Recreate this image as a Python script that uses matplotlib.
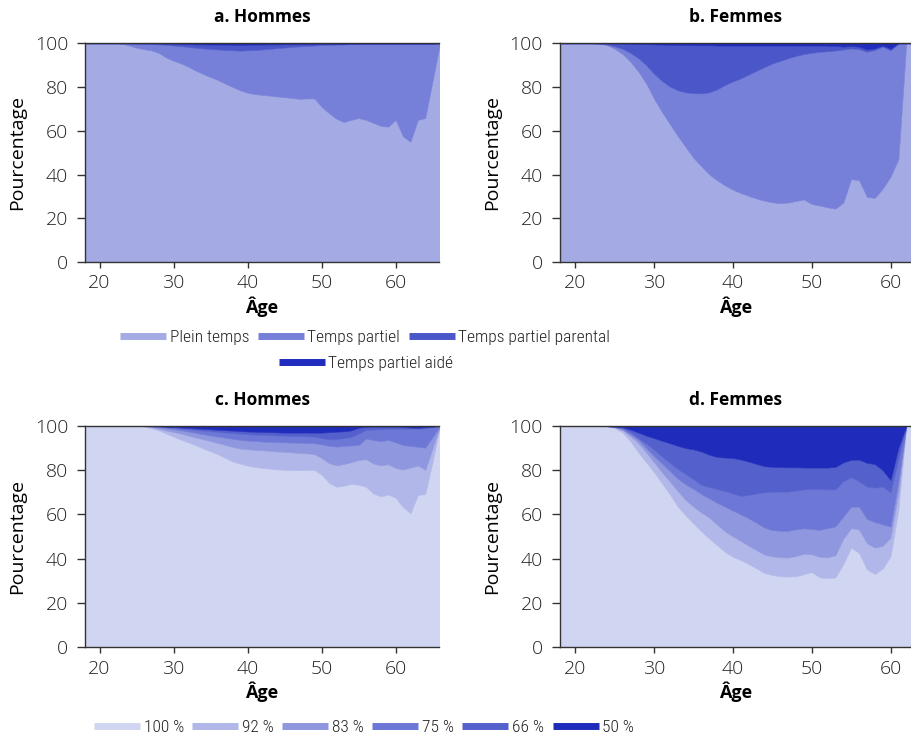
import matplotlib
matplotlib.use('Agg')
import matplotlib.pyplot as plt
from matplotlib.lines import Line2D

plt.rcParams['font.family'] = ['Open Sans', 'DejaVu Sans']
plt.rcParams['font.weight'] = 'light'

# ---- data ----
ages_h = list(range(18, 67))
ages_f = list(range(18, 64))

# a. Hommes (type de temps de travail)
h_plein = [100, 100, 100, 100, 100, 99.8, 99, 98, 97.3, 96.8, 95.6, 93.5, 92, 90.8, 89.3,
           87.5, 86, 84.5, 83.2, 81.5, 80, 78.5, 77.4, 76.8, 76.4, 76.1, 75.7, 75.4, 75, 74.6,
           74.8, 74.8, 71, 68, 65.5, 64, 65, 65.8, 65, 63.6, 62.2, 61.9, 65, 57.4, 55, 65,
           65.8, 83, 100]
h_partiel = [0, 0, 0, 0, 0, 0.2, 1, 1.9, 2.5, 2.9, 3.9, 5.8, 7, 7.9, 9.1, 10.5, 11.7, 12.9,
             14, 15.5, 16.8, 18.2, 19.4, 20.2, 20.8, 21.4, 22.1, 22.7, 23.4, 24, 24, 24.2,
             28.2, 31.3, 33.9, 35.5, 34.6, 33.9, 34.8, 36.2, 37.6, 37.9, 34.8, 42.4, 44.8,
             34.8, 34, 16.8, 0]
h_parental = [0, 0, 0, 0, 0, 0, 0, 0.1, 0.2, 0.3, 0.5, 0.6, 0.8, 1.0, 1.2, 1.5, 1.8, 2.0,
              2.2, 2.4, 2.5, 2.6, 2.5, 2.4, 2.2, 2.0, 1.7, 1.5, 1.2, 1.0, 0.8, 0.7, 0.6, 0.5,
              0.4, 0.3, 0.3, 0.2, 0.1, 0.1, 0.1, 0.1, 0.1, 0.1, 0.1, 0.1, 0.1, 0.1, 0]
h_aide = [0, 0, 0, 0, 0, 0, 0, 0, 0, 0, 0, 0.1, 0.2, 0.3, 0.4, 0.5, 0.5, 0.6, 0.6, 0.6, 0.7,
          0.7, 0.7, 0.6, 0.6, 0.5, 0.5, 0.4, 0.4, 0.4, 0.4, 0.3, 0.2, 0.2, 0.2, 0.2, 0.1, 0.1,
          0.1, 0.1, 0.1, 0.1, 0.1, 0.1, 0.1, 0.1, 0.1, 0.1, 0]

# b. Femmes
f_plein = [100, 100, 100, 100, 100, 99.8, 99.2, 97.5, 95, 91.5, 87, 81.5, 74.5, 68.5, 63,
           57.5, 52.5, 47.5, 43.7, 40, 37.3, 35, 33, 31.5, 30.2, 29, 28, 27.3, 26.9, 27.2,
           27.9, 28.6, 26.5, 25.8, 25, 24.4, 27.2, 37.9, 37.4, 29.8, 29.3, 33.5, 39, 47,
           100, 100]
f_partiel = [0, 0, 0, 0, 0, 0.1, 0.3, 1.1, 2.5, 4.1, 6.2, 8.5, 11.5, 14.3, 17.2, 21, 25.1,
             29.7, 33.4, 37.6, 41.7, 46, 49.6, 52.5, 55.6, 58.5, 61.2, 63.5, 65.1, 66, 66.4,
             66.5, 69.2, 70.3, 71.4, 72.3, 70, 59.8, 59.9, 66.4, 67.7, 65, 57.8, 53, 0, 0]
f_parental = [0, 0, 0, 0, 0, 0.1, 0.5, 1.3, 2.4, 4.2, 6.5, 9.6, 13.5, 16.6, 19.1, 20.7,
              21.6, 21.9, 22, 21.5, 20, 18, 16.4, 15, 13.2, 11.5, 9.8, 8.2, 7, 5.8, 4.7,
              3.9, 3.3, 2.9, 2.5, 2.1, 1.3, 1.1, 1.2, 1, 0.7, 0.5, 0.7, 0, 0, 0]
f_aide = [0, 0, 0, 0, 0, 0, 0, 0.1, 0.1, 0.2, 0.3, 0.4, 0.5, 0.6, 0.7, 0.8, 0.8, 0.9, 0.9,
          0.9, 1, 1, 1, 1, 1, 1, 1, 1, 1, 1, 1, 1, 1, 1, 1.1, 1.2, 1.5, 1.2, 1.5, 2.8, 2.3,
          1, 2.5, 0, 0, 0]

# c. Hommes (quotite de travail)
hq_100 = [100, 100, 100, 100, 100, 100, 100, 100, 99.8, 99, 98, 96.6, 95.2, 93.8, 92.6,
          91.3, 89.8, 88.5, 87.2, 85.5, 83.9, 83, 82.1, 81.5, 81, 80.7, 80.4, 80.2, 80, 80,
          80.1, 80.1, 78, 74.3, 72.5, 73, 73.8, 73.4, 72.5, 69.4, 68.2, 69, 67.5, 63.3,
          60.5, 68.8, 69.2, 84, 100]
hq_92 = [0, 0, 0, 0, 0, 0, 0, 0, 0.1, 0.5, 0.8, 1.4, 2.1, 2.8, 3.1, 3.5, 4.2, 4.7, 5.1,
         5.9, 6.6, 6.8, 7.4, 7.7, 8, 8.1, 8.1, 8.1, 8.1, 7.8, 7.5, 7.2, 7.5, 8.9, 9.7, 9.8,
         9.8, 11.2, 12.5, 13.6, 14, 13.7, 13.5, 17, 20.7, 13.3, 11, 6, 0]
hq_83 = [0, 0, 0, 0, 0, 0, 0, 0, 0.1, 0.3, 0.7, 1, 1.3, 1.5, 1.8, 2.1, 2.3, 2.5, 2.9, 3.3,
         3.7, 3.9, 3.9, 4, 4, 4, 4.2, 4.3, 4.4, 4.6, 4.7, 4.9, 6.2, 7.8, 8.5, 8.2, 7.6, 6.8,
         9.3, 10.6, 11, 11, 11.6, 11.1, 9.8, 8.5, 10, 5, 0]
hq_75 = [0, 0, 0, 0, 0, 0, 0, 0, 0, 0.1, 0.2, 0.5, 0.6, 0.8, 1.1, 1.3, 1.6, 1.9, 2.1, 2.3,
         2.6, 2.8, 2.9, 2.9, 3, 3, 3, 3, 3, 3, 3, 3, 2.8, 3, 3.3, 3.5, 3.8, 5.1, 3.9, 4.8,
         5.3, 4.9, 6.1, 7.3, 7.8, 8.2, 8.8, 4.5, 0]
hq_66 = [0, 0, 0, 0, 0, 0, 0, 0, 0, 0.1, 0.2, 0.2, 0.3, 0.4, 0.5, 0.7, 0.8, 0.9, 1, 1.1,
         1.1, 1.2, 1.2, 1.3, 1.3, 1.4, 1.4, 1.4, 1.5, 1.6, 1.7, 1.8, 2.5, 3.2, 3.4, 3.1, 3,
         2.7, 1.4, 1.3, 1.2, 1.1, 1, 0.8, 0.5, 0.4, 0.4, 0.2, 0]
hq_50 = [0, 0, 0, 0, 0, 0, 0, 0, 0, 0, 0.1, 0.3, 0.5, 0.7, 0.9, 1.1, 1.3, 1.5, 1.7, 1.9,
         2.1, 2.3, 2.5, 2.6, 2.7, 2.8, 2.9, 3, 3, 3, 3, 3, 3, 2.8, 2.6, 2.4, 2, 0.8, 0.4,
         0.3, 0.3, 0.3, 0.3, 0.5, 0.7, 0.8, 0.6, 0.3, 0]

# d. Femmes (quotite de travail)
fq_100 = [100, 100, 100, 100, 100, 100, 99.8, 99, 97, 93, 88, 83.5, 79, 74, 69, 63.5,
          59.5, 55.8, 52.3, 49, 46, 43, 40.8, 39.3, 37.5, 35.5, 33.5, 32.6, 32, 31.9, 32,
          33, 33.9, 31.5, 31.2, 31.5, 37.5, 45, 42.5, 35.2, 33, 35.5, 41, 62, 100, 100]
fq_92 = [0, 0, 0, 0, 0, 0, 0.1, 0.4, 1.1, 2.3, 4.2, 4.5, 4.5, 5, 5.8, 7, 7, 7.7, 8.5, 9.5,
         9.3, 9.3, 9.2, 8.7, 8.3, 8.3, 8.3, 8.4, 8.6, 8.6, 9.2, 9.2, 8.1, 9.3, 9.4, 10,
         11.5, 8.8, 10.7, 11.8, 12, 10.3, 8.5, 8, 0, 0]
fq_83 = [0, 0, 0, 0, 0, 0, 0, 0.2, 0.4, 0.9, 1.5, 2, 2.8, 4, 4.7, 5.7, 7, 8, 8.4, 8.7, 9.9,
         11.2, 11.7, 12, 12.4, 12.4, 12.2, 11.9, 12, 12.1, 12.1, 11.5, 11.4, 12.2, 13.2,
         13.1, 10, 9.7, 10.3, 11, 11.5, 9.7, 5, 5, 0, 0]
fq_75 = [0, 0, 0, 0, 0, 0, 0, 0.1, 0.5, 1, 0.8, 2, 2.9, 3.1, 3.8, 4.3, 4.7, 4.3, 4.1, 5.2,
         6.2, 7, 7.7, 8.3, 10.6, 13.3, 16, 17.3, 17.7, 17.7, 17.5, 17.6, 18.1, 18.5, 17.5,
         16.7, 16, 13.3, 11.5, 14.5, 15.6, 17.1, 15.5, 10, 0, 0]
fq_66 = [0, 0, 0, 0, 0, 0, 0, 0.1, 0.4, 1.1, 2.5, 3.6, 5.3, 7.2, 8.9, 10.5, 11.8, 13.6,
         15.1, 14.6, 14.6, 15.2, 16.1, 16.5, 15.1, 13.3, 11.8, 11.3, 11.1, 11, 10.5, 9.9,
         9.7, 9.7, 9.9, 10.2, 8.5, 7.9, 9.8, 10.8, 10.7, 7.4, 5.5, 5, 0, 0]
fq_50 = [0, 0, 0, 0, 0, 0, 0.1, 0.2, 0.6, 1.7, 3, 4.4, 5.5, 6.7, 7.8, 9, 10, 10.6, 11.6,
         13, 14, 14.3, 14.5, 15.2, 16.1, 17.2, 18.2, 18.5, 18.6, 18.7, 18.7, 18.8, 18.8,
         18.8, 18.8, 18.5, 16.5, 15.3, 15.2, 16.7, 17.2, 20, 24.5, 10, 0, 0]

type_labels = ['Plein temps', 'Temps partiel', 'Temps partiel parental', 'Temps partiel aidé']
type_colors = ['#a4abe4', '#7780d8', '#4b57c9', '#1f2cbd']
quot_labels = ['100 %', '92 %', '83 %', '75 %', '66 %', '50 %']
quot_colors = ['#d0d5f1', '#b1b7e9', '#8f97de', '#6d78d6', '#5460cb', '#1f2bba']

fig = plt.figure(figsize=(9.12, 7.38), dpi=100)


def panel(rect, x, layers, colors, title, xmax):
    ax = fig.add_axes(rect)
    ax.stackplot(x, *layers, colors=colors, edgecolor='face', linewidth=0.4)
    ax.set_xlim(18, xmax)
    ax.set_ylim(0, 100)
    ax.set_xticks([20, 30, 40, 50, 60])
    ax.set_yticks([0, 20, 40, 60, 80, 100])
    ax.spines['right'].set_visible(False)
    for s in ['left', 'bottom', 'top']:
        ax.spines[s].set_color('#333333')
        ax.spines[s].set_linewidth(1)
    ax.tick_params(axis='y', direction='out', length=6, width=1, color='#333333',
                   labelcolor='#222222', labelsize=14, pad=6)
    ax.tick_params(axis='x', direction='out', length=4, width=1, color='#333333',
                   labelcolor='#222222', labelsize=14, pad=5)
    ax.set_title(title, fontweight='bold', fontsize=12.5, pad=15)
    ax.set_xlabel('Âge', fontweight='bold', fontsize=13, labelpad=3)
    ax.set_ylabel('Pourcentage', fontsize=14, labelpad=6)
    return ax


panel([0.0929, 0.645, 0.3888, 0.2963], ages_h, [h_plein, h_partiel, h_parental, h_aide],
      type_colors, 'a. Hommes', 65.9)
panel([0.6137, 0.645, 0.3852, 0.2963], ages_f, [f_plein, f_partiel, f_parental, f_aide],
      type_colors, 'b. Femmes', 62.6)
panel([0.0929, 0.1233, 0.3888, 0.2995], ages_h, [hq_100, hq_92, hq_83, hq_75, hq_66, hq_50],
      quot_colors, 'c. Hommes', 65.9)
panel([0.6137, 0.1233, 0.3852, 0.2995], ages_f, [fq_100, fq_92, fq_83, fq_75, fq_66, fq_50],
      quot_colors, 'd. Femmes', 62.6)

h1 = [Line2D([], [], color=c, lw=5, solid_capstyle='butt') for c in type_colors]
h2 = [Line2D([], [], color=c, lw=5, solid_capstyle='butt') for c in quot_colors]
leg_kw = dict(frameon=False, handlelength=2.65, handletextpad=0.2,
              columnspacing=0.5, borderaxespad=0, borderpad=0, labelcolor='#222222',
              prop=dict(family=['Roboto Condensed', 'Open Sans'], weight='light', size=12.5))
fig.legend(h1[:3], type_labels[:3], loc='center', ncol=3,
           bbox_to_anchor=(365 / 912, 1 - 337 / 738), **leg_kw)
fig.legend(h1[3:], type_labels[3:], loc='center', ncol=1,
           bbox_to_anchor=(366 / 912, 1 - 363 / 738), **leg_kw)
fig.legend(h2, quot_labels, loc='center', ncol=6,
           bbox_to_anchor=(364 / 912, 1 - 727 / 738), **leg_kw)

fig.savefig('out.png', dpi=100)
